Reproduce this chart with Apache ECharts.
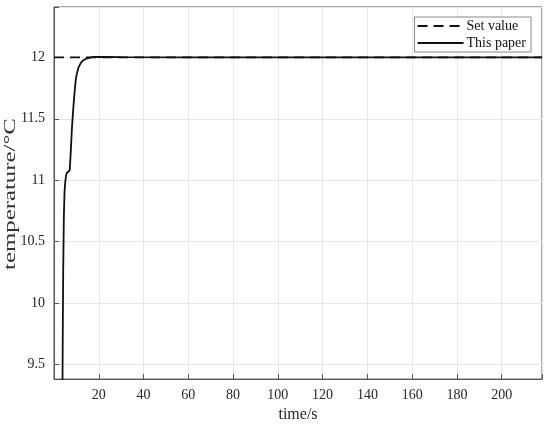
<!DOCTYPE html>
<html>
<head>
<meta charset="utf-8">
<script src="https://cdn.jsdelivr.net/npm/echarts@6/dist/echarts.min.js"></script>
<style>html,body{margin:0;padding:0;background:#fff}#c{width:550px;height:428px}</style>
</head>
<body>
<div id="c"></div>
<script>
// ---- data ----
const timeValues = [3.75, 3.9, 4.1, 4.4, 4.7, 5.0, 5.4, 5.8, 6.6, 7.0, 7.4, 8.0, 8.6, 9.2, 9.8, 10.4, 11.0, 12.0, 13.0, 14.5, 16.0, 18.0, 22.0, 30.0, 60.0, 218.0];
const tempValues = [9.2, 9.7, 10.25, 10.7, 10.9, 10.98, 11.04, 11.06, 11.06, 11.08, 11.2, 11.42, 11.58, 11.72, 11.83, 11.88, 11.92, 11.955, 11.975, 11.99, 11.997, 12.003, 12.004, 12.002, 12.0, 12.0];
const setTime = [0, 218];
const setValue = [12, 12];
const seriesNames = ['Set value', 'This paper'];
const xTicks = [20, 40, 60, 80, 100, 120, 140, 160, 180, 200];
const yTicks = [9.5, 10, 10.5, 11, 11.5, 12];

const font = 'Liberation Serif, Times New Roman, serif';
const chart = echarts.init(document.getElementById('c'), null, {renderer: 'canvas'});
const near = (v, arr) => arr.some(t => Math.abs(t - v) < 1e-6);

chart.setOption({
  animation: false,
  backgroundColor: '#fff',
  grid: {left: 54, right: 8, top: 7, bottom: 48, show: true, borderColor: '#555', borderWidth: 1, backgroundColor: 'transparent'},
  legend: {
    orient: 'vertical', right: 19, top: 17,
    data: seriesNames,
    itemWidth: 46, itemHeight: 14, itemGap: 3,
    padding: [2, 5, 2, 2],
    itemStyle: {opacity: 0},
    backgroundColor: '#fff', borderColor: '#888', borderWidth: 1, borderRadius: 0,
    textStyle: {fontFamily: font, fontSize: 14, color: '#111', padding: [0, 0, 0, -2]}
  },
  xAxis: {
    type: 'value', min: 0, max: 218, interval: 20,
    name: 'time/s', nameLocation: 'middle', nameGap: 26,
    nameTextStyle: {fontFamily: font, fontSize: 16, color: '#262626'},
    axisLine: {show: true, lineStyle: {color: '#555', width: 1}},
    axisTick: {show: true, inside: true, length: 5, lineStyle: {color: '#555'}},
    axisLabel: {fontFamily: font, fontSize: 14, color: '#262626', margin: 9,
      formatter: v => near(v, xTicks) ? String(v) : ''},
    splitLine: {show: true, lineStyle: {color: '#e6e6e6', width: 1}}
  },
  yAxis: {
    type: 'value', min: 9.38, max: 12.41,
    axisLine: {show: true, lineStyle: {color: '#555', width: 1}},
    axisTick: {show: true, inside: true, length: 5, lineStyle: {color: '#555'}},
    axisLabel: {fontFamily: font, fontSize: 14, color: '#262626', margin: 9,
      formatter: v => near(v, yTicks) ? String(v) : ''},
    splitLine: {show: true, lineStyle: {color: '#e6e6e6', width: 1}}
  },
  graphic: [{
    type: 'text',
    x: 11, y: 194,
    rotation: Math.PI / 2, scaleX: 1.55,
    style: {text: 'temperature/°C', fontFamily: font, fontSize: 16, fill: '#333', textAlign: 'center', textVerticalAlign: 'middle'}
  }],
  series: [
    {
      name: seriesNames[0], type: 'line', symbol: 'none', z: 3,
      data: setTime.map((t, i) => [t, setValue[i]]),
      lineStyle: {color: '#111', width: 1.8, type: [10, 6]},
      itemStyle: {color: '#111'}
    },
    {
      name: seriesNames[1], type: 'line', symbol: 'none', z: 4, clip: true,
      data: timeValues.map((t, i) => [t, tempValues[i]]),
      lineStyle: {color: '#111', width: 1.8},
      itemStyle: {color: '#111'}
    }
  ]
});
</script>
</body>
</html>
